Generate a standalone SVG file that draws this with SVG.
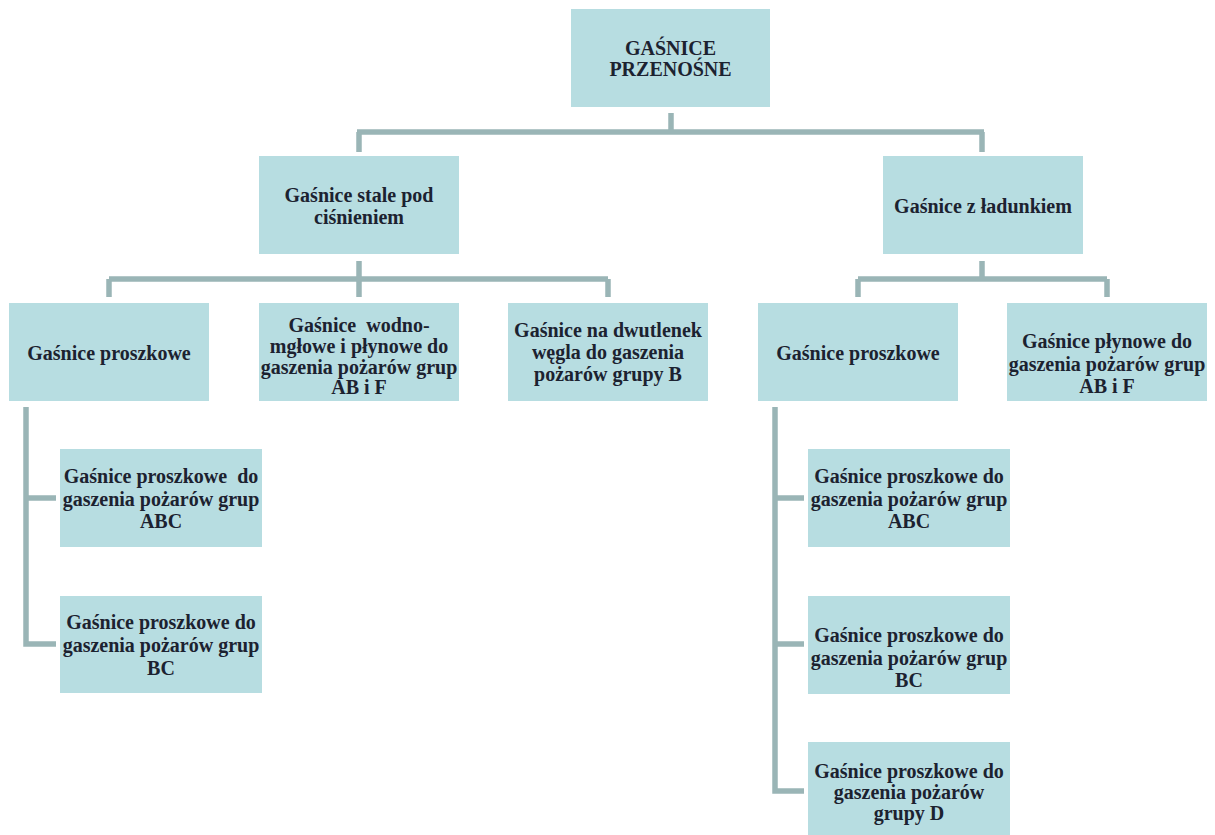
<svg xmlns="http://www.w3.org/2000/svg" width="1215" height="835" viewBox="0 0 1215 835">
<style>
.box{fill:#b7dde1;}
.t{font-family:"Liberation Serif","Times New Roman",serif;font-weight:bold;font-size:20px;fill:#1c2230;text-anchor:middle;white-space:pre;}
.c{fill:none;stroke:#9ab5b6;stroke-width:5.5;stroke-linejoin:miter;stroke-linecap:butt;}
</style>
<rect width="1215" height="835" fill="#ffffff"/>
<g id="connectors">
<path class="c" d="M671,113 V132 M357,132 H984 M359,132 V152 M982,132 V152"/>
<path class="c" d="M359,261 V279 M109,279 H608 M109,279 V297 M359,279 V297 M608,279 V297"/>
<path class="c" d="M982,261 V279 M858,279 H1107 M858,279 V297 M1107,279 V297"/>
<path class="c" d="M26,407 V644 H56 M26,498 H56"/>
<path class="c" d="M775,407 V791 H804 M775,498 H804 M775,644 H804"/>
</g>
<g id="n-root"><rect class="box" x="571" y="9" width="199" height="98"/><text class="t" x="670.5" y="55">GAŚNICE</text><text class="t" x="670.5" y="76">PRZENOŚNE</text></g>
<g id="n-stale"><rect class="box" x="259" y="156" width="200" height="98"/><text class="t" x="359" y="202">Gaśnice stale pod</text><text class="t" x="359" y="224">ciśnieniem</text></g>
<g id="n-ladunek"><rect class="box" x="883" y="156" width="200" height="98"/><text class="t" x="983" y="213">Gaśnice z ładunkiem</text></g>
<g id="n-proszkowe1"><rect class="box" x="9" y="303" width="200" height="98"/><text class="t" x="109" y="360">Gaśnice proszkowe</text></g>
<g id="n-wodno"><rect class="box" x="259" y="303" width="200" height="98"/><text class="t" x="359" y="332">Gaśnice  wodno-</text><text class="t" x="359" y="353">mgłowe i płynowe do</text><text class="t" x="359" y="373.5">gaszenia pożarów grup</text><text class="t" x="359" y="394">AB i F</text></g>
<g id="n-co2"><rect class="box" x="508" y="303" width="200" height="98"/><text class="t" x="608" y="337">Gaśnice na dwutlenek</text><text class="t" x="608" y="359">węgla do gaszenia</text><text class="t" x="608" y="381">pożarów grupy B</text></g>
<g id="n-proszkowe2"><rect class="box" x="758" y="303" width="200" height="98"/><text class="t" x="858" y="360">Gaśnice proszkowe</text></g>
<g id="n-plynowe"><rect class="box" x="1007" y="303" width="200" height="98"/><text class="t" x="1107" y="348">Gaśnice płynowe do</text><text class="t" x="1107" y="370.5">gaszenia pożarów grup</text><text class="t" x="1107" y="393">AB i F</text></g>
<g id="n-abc1"><rect class="box" x="60" y="449" width="202" height="98"/><text class="t" x="161" y="483">Gaśnice proszkowe  do</text><text class="t" x="161" y="505.5">gaszenia pożarów grup</text><text class="t" x="161" y="528">ABC</text></g>
<g id="n-bc1"><rect class="box" x="60" y="596" width="202" height="97"/><text class="t" x="161" y="629">Gaśnice proszkowe do</text><text class="t" x="161" y="652">gaszenia pożarów grup</text><text class="t" x="161" y="675">BC</text></g>
<g id="n-abc2"><rect class="box" x="808" y="449" width="202" height="98"/><text class="t" x="909" y="483">Gaśnice proszkowe do</text><text class="t" x="909" y="505.5">gaszenia pożarów grup</text><text class="t" x="909" y="528">ABC</text></g>
<g id="n-bc2"><rect class="box" x="808" y="596" width="202" height="98"/><text class="t" x="909" y="642">Gaśnice proszkowe do</text><text class="t" x="909" y="664.5">gaszenia pożarów grup</text><text class="t" x="909" y="687">BC</text></g>
<g id="n-d"><rect class="box" x="808" y="742" width="202" height="100"/><text class="t" x="909" y="778">Gaśnice proszkowe do</text><text class="t" x="909" y="799">gaszenia pożarów</text><text class="t" x="909" y="820">grupy D</text></g>
</svg>
